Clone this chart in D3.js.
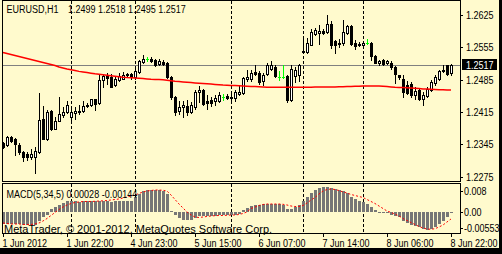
<!DOCTYPE html>
<html><head><meta charset="utf-8">
<script src="https://cdn.jsdelivr.net/npm/d3@7"></script>
<style>
html,body{margin:0;padding:0;background:#000;}
svg{display:block;}
</style></head>
<body>
<svg id="chart" width="502" height="254"></svg>
<script>
// ---------------- DATA ----------------
const symbolTitle = "EURUSD,H1";
const titleValues = "1.2499 1.2518 1.2495 1.2517";
const macdTitle = "MACD(5,34,5) 0.00028 -0.00144";
const copyright = "MetaTrader, \u00A9 2001-2012, MetaQuotes Software Corp.";

const opens = [1.2348,1.2344,1.2361,1.2357,1.2344,1.2329,1.2324,1.2318,1.2318,1.2329,
1.2400,1.2357,1.2417,1.2378,1.2396,1.2409,1.2415,1.2404,1.2413,1.2415,
1.2417,1.2428,1.2430,1.2443,1.2435,1.2484,1.2493,1.2491,1.2473,1.2484,
1.2486,1.2495,1.2497,1.2491,1.2501,1.2523,1.2530,1.2530,1.2527,1.2519,
1.2523,1.2521,1.2491,1.2447,1.2417,1.2426,1.2428,1.2415,1.2426,1.2458,
1.2463,1.2439,1.2441,1.2439,1.2439,1.2447,1.2450,1.2447,1.2445,1.2454,
1.2456,1.2486,1.2486,1.2501,1.2499,1.2482,1.2497,1.2508,1.2512,1.2491,
1.2491,1.2493,1.2441,1.2493,1.2495,1.2547,1.2545,1.2560,1.2584,1.2586,
1.2590,1.2588,1.2605,1.2568,1.2564,1.2564,1.2586,1.2601,1.2564,1.2562,
1.2560,1.2564,1.2564,1.2536,1.2521,1.2527,1.2521,1.2521,1.2512,1.2495,
1.2486,1.2473,1.2476,1.2452,1.2463,1.2443,1.2450,1.2463,1.2478,1.2486,
1.2504,1.2517,1.2499];
const highs = [1.2350,1.2363,1.2363,1.2359,1.2348,1.2331,1.2329,1.2335,1.2339,1.2456,
1.2428,1.2419,1.2419,1.2404,1.2447,1.2426,1.2439,1.2422,1.2426,1.2430,
1.2439,1.2435,1.2443,1.2443,1.2495,1.2497,1.2499,1.2497,1.2493,1.2499,
1.2501,1.2499,1.2499,1.2508,1.2527,1.2538,1.2534,1.2534,1.2530,1.2530,
1.2527,1.2523,1.2493,1.2450,1.2439,1.2439,1.2441,1.2437,1.2463,1.2471,
1.2465,1.2452,1.2447,1.2452,1.2458,1.2454,1.2454,1.2456,1.2463,1.2473,
1.2491,1.2506,1.2506,1.2517,1.2504,1.2499,1.2521,1.2525,1.2517,1.2504,
1.2517,1.2495,1.2517,1.2512,1.2519,1.2575,1.2575,1.2594,1.2597,1.2603,
1.2594,1.2625,1.2612,1.2571,1.2573,1.2614,1.2603,1.2603,1.2571,1.2566,
1.2568,1.2573,1.2566,1.2538,1.2527,1.2530,1.2527,1.2525,1.2514,1.2495,
1.2495,1.2482,1.2480,1.2469,1.2465,1.2458,1.2469,1.2484,1.2495,1.2506,
1.2517,1.2517,1.2518];
const lows = [1.2337,1.2342,1.2350,1.2322,1.2324,1.2309,1.2311,1.2313,1.2283,1.2327,
1.2357,1.2355,1.2376,1.2378,1.2396,1.2404,1.2413,1.2396,1.2400,1.2411,
1.2415,1.2426,1.2428,1.2419,1.2432,1.2469,1.2476,1.2469,1.2471,1.2482,
1.2486,1.2491,1.2486,1.2486,1.2499,1.2521,1.2525,1.2523,1.2514,1.2517,
1.2517,1.2489,1.2443,1.2409,1.2411,1.2404,1.2409,1.2413,1.2422,1.2437,
1.2430,1.2422,1.2428,1.2430,1.2437,1.2441,1.2443,1.2437,1.2439,1.2452,
1.2454,1.2482,1.2482,1.2495,1.2476,1.2473,1.2495,1.2506,1.2491,1.2484,
1.2489,1.2437,1.2439,1.2480,1.2482,1.2542,1.2542,1.2560,1.2581,1.2562,
1.2584,1.2586,1.2553,1.2542,1.2555,1.2560,1.2584,1.2560,1.2551,1.2558,
1.2555,1.2562,1.2527,1.2521,1.2517,1.2517,1.2519,1.2508,1.2478,1.2486,
1.2447,1.2454,1.2447,1.2443,1.2441,1.2430,1.2447,1.2460,1.2473,1.2484,
1.2501,1.2495,1.2495];
const closes = [1.2339,1.2361,1.2352,1.2346,1.2329,1.2318,1.2318,1.2324,1.2331,1.2398,
1.2357,1.2415,1.2378,1.2396,1.2411,1.2415,1.2430,1.2415,1.2417,1.2417,
1.2428,1.2430,1.2443,1.2432,1.2484,1.2493,1.2489,1.2469,1.2486,1.2493,
1.2495,1.2497,1.2491,1.2504,1.2525,1.2530,1.2530,1.2525,1.2517,1.2525,
1.2519,1.2491,1.2447,1.2415,1.2426,1.2430,1.2415,1.2430,1.2458,1.2463,
1.2432,1.2435,1.2435,1.2445,1.2452,1.2447,1.2445,1.2445,1.2458,1.2458,
1.2489,1.2491,1.2499,1.2497,1.2480,1.2495,1.2517,1.2517,1.2493,1.2491,
1.2491,1.2441,1.2508,1.2506,1.2517,1.2545,1.2564,1.2588,1.2592,1.2590,
1.2586,1.2605,1.2560,1.2560,1.2562,1.2588,1.2601,1.2562,1.2558,1.2560,
1.2564,1.2564,1.2536,1.2521,1.2525,1.2519,1.2525,1.2512,1.2497,1.2491,
1.2458,1.2456,1.2452,1.2460,1.2443,1.2452,1.2465,1.2480,1.2491,1.2504,
1.2506,1.2497,1.2517];
const movingAverage = [1.25436,1.25414,1.25393,1.25371,1.25350,1.25328,1.25306,1.25285,1.25263,1.25242,
1.25220,1.25198,1.25177,1.25155,1.25123,1.25101,1.25080,1.25062,1.25045,1.25028,
1.25015,1.25002,1.24989,1.24976,1.24965,1.24954,1.24944,1.24933,1.24922,1.24911,
1.24902,1.24896,1.24892,1.24885,1.24879,1.24872,1.24866,1.24859,1.24855,1.24851,
1.24846,1.24838,1.24827,1.24816,1.24807,1.24799,1.24792,1.24786,1.24779,1.24773,
1.24766,1.24760,1.24753,1.24747,1.24740,1.24734,1.24730,1.24725,1.24721,1.24717,
1.24712,1.24708,1.24704,1.24699,1.24695,1.24691,1.24686,1.24686,1.24684,1.24684,
1.24684,1.24684,1.24684,1.24684,1.24684,1.24684,1.24684,1.24686,1.24691,1.24691,
1.24691,1.24691,1.24691,1.24693,1.24695,1.24697,1.24699,1.24702,1.24706,1.24708,
1.24710,1.24712,1.24712,1.24712,1.24710,1.24706,1.24699,1.24693,1.24686,1.24682,
1.24678,1.24674,1.24669,1.24663,1.24656,1.24650,1.24645,1.24641,1.24637,1.24632,
1.24630,1.24628,1.24626];
const macdMain = [-0.00418,-0.00418,-0.00418,-0.00418,-0.00436,-0.00455,-0.00455,-0.00455,-0.00455,-0.00309,
-0.00164,-0.00091,0.00127,0.00200,0.00273,0.00345,0.00400,0.00418,0.00400,0.00382,
0.00400,0.00418,0.00418,0.00400,0.00436,0.00436,0.00418,0.00382,0.00400,0.00418,
0.00418,0.00436,0.00436,0.00564,0.00673,0.00764,0.00818,0.00836,0.00836,0.00818,
0.00782,0.00673,0.00055,-0.00091,-0.00200,-0.00273,-0.00291,-0.00273,-0.00200,-0.00145,
-0.00145,-0.00145,-0.00127,-0.00127,-0.00109,-0.00109,-0.00109,-0.00109,-0.00091,-0.00055,
0.00091,0.00164,0.00236,0.00273,0.00273,0.00291,0.00309,0.00327,0.00309,0.00291,
0.00273,0.00145,0.00127,0.00200,0.00273,0.00429,0.00575,0.00709,0.00818,0.00891,
0.00916,0.00938,0.00909,0.00865,0.00818,0.00771,0.00727,0.00564,0.00473,0.00436,
0.00382,0.00291,0.00200,0.00091,0.00036,-0.00018,-0.00036,-0.00073,-0.00127,-0.00182,
-0.00298,-0.00382,-0.00455,-0.00509,-0.00545,-0.00611,-0.00636,-0.00600,-0.00527,-0.00418,
-0.00298,-0.00164,0.00028];
const macdSignal = [-0.00382,-0.00400,-0.00418,-0.00418,-0.00418,-0.00436,-0.00436,-0.00436,-0.00418,-0.00382,
-0.00309,-0.00218,-0.00109,0.00000,0.00109,0.00200,0.00273,0.00327,0.00364,0.00382,
0.00400,0.00400,0.00400,0.00407,0.00418,0.00425,0.00436,0.00455,0.00473,0.00491,
0.00527,0.00564,0.00600,0.00636,0.00691,0.00745,0.00782,0.00800,0.00818,0.00818,
0.00807,0.00782,0.00636,0.00473,0.00309,0.00164,0.00018,-0.00091,-0.00164,-0.00182,
-0.00164,-0.00145,-0.00127,-0.00116,-0.00109,-0.00109,-0.00102,-0.00091,-0.00091,-0.00073,
-0.00036,0.00018,0.00145,0.00200,0.00255,0.00291,0.00309,0.00309,0.00309,0.00309,
0.00298,0.00273,0.00236,0.00218,0.00218,0.00255,0.00345,0.00455,0.00545,0.00673,
0.00782,0.00836,0.00855,0.00836,0.00800,0.00745,0.00709,0.00655,0.00618,0.00582,
0.00545,0.00473,0.00400,0.00327,0.00236,0.00145,0.00055,0.00000,-0.00055,-0.00127,
-0.00218,-0.00291,-0.00364,-0.00436,-0.00509,-0.00564,-0.00600,-0.00611,-0.00589,-0.00527,
-0.00455,-0.00345,-0.00236];

const timeLabels = ["1 Jun 2012","1 Jun 22:00","4 Jun 23:00","5 Jun 15:00","6 Jun 07:00","7 Jun 14:00","8 Jun 06:00","8 Jun 22:00"];
const timeLabelBars = [0,16,32,48,64,80,96,112];
const separatorBars = [17,33,57,75,90];
const priceTicks = [1.2625,1.2555,1.2485,1.2415,1.2345,1.2275];
const macdTicks = [0.008,0,-0.00553];
const macdTickLabels = ["0.008","0.00","-0.00553"];
const lastPrice = 1.2517;

// ---------------- LAYOUT ----------------
const W = 502, H = 254;
const L = 2, R = 460, T = 0, mainB = 181, macdT = 183, macdB = 233;
const BG = "#FFFACD";
const svg = d3.select("#chart");

const n = opens.length;
const x = d3.scaleLinear().domain([0, n - 1]).range([3, 451]);
const y = d3.scaleLinear().domain([1.2275, 1.2625]).range([176.85, 14.8]);
const ym = d3.scaleLinear().domain([-0.00553, 0.008]).range([227.7, 190.5]);

// font detection for narrow font
const cv = document.createElement("canvas").getContext("2d");
cv.font = '11px "Liberation Sans Narrow", monospace';
const wN = cv.measureText("1.2499 EURUSD").width;
cv.font = '11px monospace';
const wM = cv.measureText("1.2499 EURUSD").width;
const hasNarrow = Math.abs(wN - wM) > 0.5;
const FONT = hasNarrow ? '"Liberation Sans Narrow"' : '"Liberation Sans"';
const SX = hasNarrow ? 1 : 0.82;

function ntext(g, str, tx, ty, fill) {
  return g.append("text")
    .attr("transform", `translate(${tx},${ty}) scale(${SX},1)`)
    .attr("font-family", FONT).attr("font-size", 11)
    .attr("fill", fill || "#000").text(str);
}

// background
svg.append("rect").attr("width", W).attr("height", H).attr("fill", "#000");
svg.append("rect").attr("width", 499).attr("height", 248).attr("fill", BG);

const g = svg.append("g").attr("shape-rendering", "crispEdges");

// separators (dashed)
const px = i => Math.round(x(i));
separatorBars.forEach(b => {
  g.append("line").attr("x1", px(b) + 0.5).attr("x2", px(b) + 0.5)
    .attr("y1", T + 1).attr("y2", mainB).attr("stroke", "#000").attr("stroke-dasharray", "3,2");
  g.append("line").attr("x1", px(b) + 0.5).attr("x2", px(b) + 0.5)
    .attr("y1", macdT + 1).attr("y2", macdB).attr("stroke", "#000").attr("stroke-dasharray", "3,2");
});

// bid line
const by = Math.round(y(lastPrice)) + 0.5;
g.append("line").attr("x1", L).attr("x2", R).attr("y1", by).attr("y2", by).attr("stroke", "#808080");

// moving average
const maLine = d3.line().x((d, i) => i === 0 ? L + 1 : x(i)).y(d => y(d));
svg.append("path").datum(movingAverage).attr("d", maLine)
  .attr("fill", "none").attr("stroke", "#FF0000").attr("stroke-width", 1.5);

// candles
const cg = g.append("g");
for (let i = 0; i < n; i++) {
  const cx = px(i);
  const o = opens[i], c = closes[i];
  const yh = Math.round(y(highs[i])), yl = Math.round(y(lows[i]));
  const yo = Math.round(y(o)), yc = Math.round(y(c));
  const doji = Math.abs(o - c) < 1e-9;
  const col = doji ? "#00FF00" : "#000";
  cg.append("rect").attr("x", cx).attr("y", yh).attr("width", 1).attr("height", yl - yh + 1).attr("fill", col);
  if (doji) {
    cg.append("rect").attr("x", cx - 1).attr("y", yc).attr("width", 3).attr("height", 1).attr("fill", col);
  } else {
    const top = Math.min(yo, yc), bot = Math.max(yo, yc);
    cg.append("rect").attr("x", cx - 1).attr("y", top).attr("width", 3).attr("height", bot - top + 1).attr("fill", "#000");
    if (c > o && bot - top >= 2) {
      cg.append("rect").attr("x", cx).attr("y", top + 1).attr("width", 1).attr("height", bot - top - 1).attr("fill", "#fff");
    }
  }
}

// MACD histogram
const y0 = Math.round(ym(0));
macdMain.forEach((v, i) => {
  const yv = Math.round(ym(v));
  g.append("rect").attr("x", px(i) - 1).attr("width", 3)
    .attr("y", Math.min(y0, yv)).attr("height", Math.max(1, Math.abs(yv - y0)))
    .attr("fill", "#767676");
});
// MACD signal
svg.append("path").datum(macdSignal)
  .attr("d", d3.line().x((d, i) => x(i)).y(d => ym(d)))
  .attr("fill", "none").attr("stroke", "#FF0000").attr("stroke-width", 1).attr("stroke-dasharray", "2,2");

// frames
function frame(x0, y0_, x1, y1) {
  g.append("rect").attr("x", x0 + 0.5).attr("y", y0_ + 0.5).attr("width", x1 - x0).attr("height", y1 - y0_)
    .attr("fill", "none").attr("stroke", "#000");
}
frame(L, T, R, mainB);
frame(L, macdT, R, macdB);

// right price axis
priceTicks.forEach(p => {
  const yy = Math.round(y(p));
  g.append("rect").attr("x", R).attr("y", yy).attr("width", 3).attr("height", 1).attr("fill", "#000");
  ntext(svg, p.toFixed(4), 466, yy + 4);
});
// last price box
const ly = Math.round(y(lastPrice));
svg.append("rect").attr("x", 462).attr("y", ly - 6).attr("width", 35).attr("height", 11).attr("fill", "#000");
ntext(svg, lastPrice.toFixed(4), 466, ly + 3.5, "#fff");

// MACD axis
macdTicks.forEach((v, k) => {
  const yy = Math.round(ym(v));
  g.append("rect").attr("x", R).attr("y", yy).attr("width", 3).attr("height", 1).attr("fill", "#000");
  ntext(svg, macdTickLabels[k], 464, yy + 4);
});

// time axis
timeLabelBars.forEach((b, k) => {
  g.append("rect").attr("x", px(b)).attr("y", macdB).attr("width", 1).attr("height", 4).attr("fill", "#000");
  ntext(svg, timeLabels[k], px(b) - 0.5, 246.5);
});

// titles
ntext(svg, symbolTitle, 6.5, 13);
ntext(svg, titleValues, 68, 13);
ntext(svg, macdTitle, 6.5, 198);
svg.append("text").attr("x", 4).attr("y", 232.5)
  .attr("font-family", '"Liberation Sans", Arial, sans-serif').attr("font-size", 11)
  .attr("fill", "#000").text(copyright);
</script>
</body></html>
